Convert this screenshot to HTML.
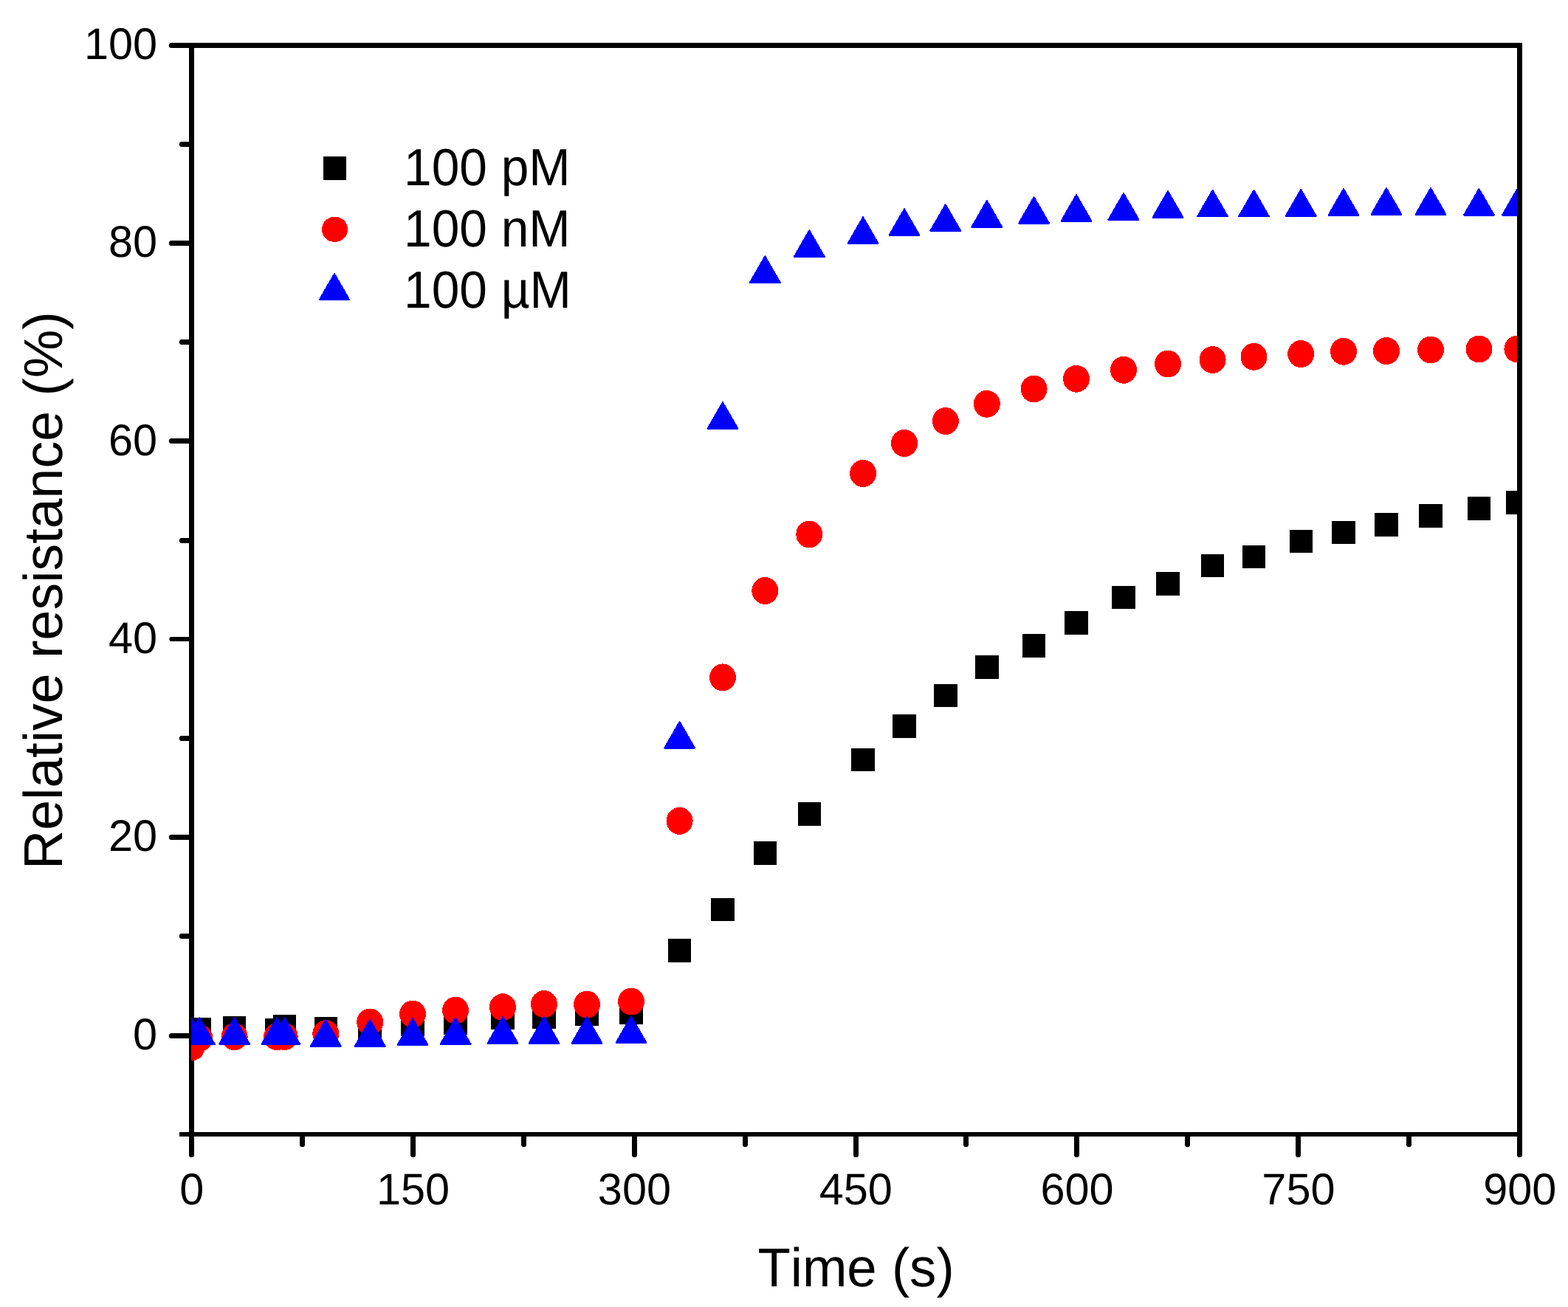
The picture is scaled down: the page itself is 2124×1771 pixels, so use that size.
<!DOCTYPE html>
<html lang="en">
<head>
<meta charset="utf-8">
<title>Relative resistance vs. time</title>
<style>
html,body{margin:0;padding:0;background:#fff;}
body{width:2124px;height:1771px;}
svg{display:block;}
text{font-family:"Liberation Sans", sans-serif;fill:#000;font-kerning:none;font-variant-ligatures:none;text-rendering:geometricPrecision;}
.tk{font-size:60px;}
.lg{font-size:71px;}
.ti{font-size:74px;}
</style>
</head>
<body>
<svg width="2124" height="1771" viewBox="0 0 2124 1771">
<rect x="0" y="0" width="2124" height="1771" fill="#ffffff"/>
<g id="axes-under" fill="#000" shape-rendering="crispEdges">
<rect x="256" y="58" width="7" height="1508"/>
<rect x="243" y="1534" width="1819" height="6"/>
<rect x="231" y="326" width="26" height="7"/>
<rect x="231" y="594" width="26" height="7"/>
<rect x="231" y="863" width="26" height="6"/>
<rect x="231" y="1131" width="26" height="7"/>
<rect x="231" y="1400" width="26" height="7"/>
<rect x="245" y="192.0" width="12" height="7"/>
<rect x="245" y="460.0" width="12" height="7"/>
<rect x="245" y="729.0" width="12" height="7"/>
<rect x="245" y="997.0" width="12" height="7"/>
<rect x="245" y="1265.0" width="12" height="7"/>
<rect x="556.0" y="1538" width="7" height="28"/>
<rect x="856.0" y="1538" width="7" height="28"/>
<rect x="1156.0" y="1538" width="7" height="28"/>
<rect x="1455.0" y="1538" width="7" height="28"/>
<rect x="1755.0" y="1538" width="7" height="28"/>
<rect x="406.0" y="1538" width="7" height="14"/>
<rect x="706.0" y="1538" width="7" height="14"/>
<rect x="1006.0" y="1538" width="7" height="14"/>
<rect x="1305.0" y="1538" width="7" height="14"/>
<rect x="1605.0" y="1538" width="7" height="14"/>
<rect x="1905.0" y="1538" width="7" height="14"/>
</g>
<g id="tick-caps" fill="#000">
<circle cx="232.3" cy="329.5" r="3.5"/>
<circle cx="232.3" cy="597.5" r="3.5"/>
<circle cx="232.3" cy="866.0" r="3.0"/>
<circle cx="232.3" cy="1134.5" r="3.5"/>
<circle cx="232.3" cy="1403.5" r="3.5"/>
<circle cx="232.3" cy="61.5" r="3.5"/>
<circle cx="246.3" cy="195.5" r="3.5"/>
<circle cx="246.3" cy="463.5" r="3.5"/>
<circle cx="246.3" cy="732.5" r="3.5"/>
<circle cx="246.3" cy="1000.5" r="3.5"/>
<circle cx="246.3" cy="1268.5" r="3.5"/>
<circle cx="246" cy="1537" r="3"/>
<circle cx="259.5" cy="1564.7" r="3.5"/>
<circle cx="559.5" cy="1564.7" r="3.5"/>
<circle cx="859.5" cy="1564.7" r="3.5"/>
<circle cx="1159.5" cy="1564.7" r="3.5"/>
<circle cx="1458.5" cy="1564.7" r="3.5"/>
<circle cx="1758.5" cy="1564.7" r="3.5"/>
<circle cx="2058.5" cy="1564.7" r="3.5"/>
<circle cx="409.5" cy="1550.7" r="3.5"/>
<circle cx="709.5" cy="1550.7" r="3.5"/>
<circle cx="1009.5" cy="1550.7" r="3.5"/>
<circle cx="1308.5" cy="1550.7" r="3.5"/>
<circle cx="1608.5" cy="1550.7" r="3.5"/>
<circle cx="1908.5" cy="1550.7" r="3.5"/>
</g>
<svg id="points" x="259" y="65" width="1803" height="1469" viewBox="259 65 1803 1469" overflow="hidden" shape-rendering="crispEdges">
<g id="series-pM" fill="#000000">
<rect x="243.9" y="1379.0" width="31.5" height="31.5"/>
<rect x="254.6" y="1379.0" width="31.5" height="31.5"/>
<rect x="301.9" y="1377.0" width="31.5" height="31.5"/>
<rect x="359.4" y="1380.0" width="31.5" height="31.5"/>
<rect x="369.9" y="1375.0" width="31.5" height="31.5"/>
<rect x="425.6" y="1377.8" width="31.5" height="31.5"/>
<rect x="485.4" y="1375.8" width="31.5" height="31.5"/>
<rect x="543.2" y="1372.8" width="31.5" height="31.5"/>
<rect x="601.4" y="1370.2" width="31.5" height="31.5"/>
<rect x="665.2" y="1363.5" width="31.5" height="31.5"/>
<rect x="721.2" y="1362.5" width="31.5" height="31.5"/>
<rect x="779.2" y="1358.3" width="31.5" height="31.5"/>
<rect x="839.2" y="1356.5" width="31.5" height="31.5"/>
<rect x="904.9" y="1272.0" width="31.5" height="31.5"/>
<rect x="963.2" y="1216.7" width="31.5" height="31.5"/>
<rect x="1020.5" y="1140.2" width="31.5" height="31.5"/>
<rect x="1080.5" y="1087.0" width="31.5" height="31.5"/>
<rect x="1153.3" y="1013.5" width="31.5" height="31.5"/>
<rect x="1209.2" y="968.0" width="31.5" height="31.5"/>
<rect x="1265.0" y="926.5" width="31.5" height="31.5"/>
<rect x="1321.0" y="888.2" width="31.5" height="31.5"/>
<rect x="1384.8" y="859.2" width="31.5" height="31.5"/>
<rect x="1442.2" y="828.2" width="31.5" height="31.5"/>
<rect x="1506.2" y="793.8" width="31.5" height="31.5"/>
<rect x="1566.2" y="775.2" width="31.5" height="31.5"/>
<rect x="1626.8" y="750.8" width="31.5" height="31.5"/>
<rect x="1682.8" y="738.8" width="31.5" height="31.5"/>
<rect x="1746.5" y="717.8" width="31.5" height="31.5"/>
<rect x="1804.2" y="705.8" width="31.5" height="31.5"/>
<rect x="1862.2" y="695.2" width="31.5" height="31.5"/>
<rect x="1922.2" y="683.2" width="31.5" height="31.5"/>
<rect x="1987.8" y="673.2" width="31.5" height="31.5"/>
<rect x="2039.7" y="665.2" width="31.5" height="31.5"/>
</g>
<g id="series-nM" fill="#ff0000">
<ellipse cx="259.6" cy="1419.0" rx="18" ry="18.45"/>
<ellipse cx="270.3" cy="1406.5" rx="18" ry="18.45"/>
<ellipse cx="317.6" cy="1404.7" rx="18" ry="18.45"/>
<ellipse cx="375.1" cy="1404.7" rx="18" ry="18.45"/>
<ellipse cx="385.7" cy="1404.5" rx="18" ry="18.45"/>
<ellipse cx="441.3" cy="1400.6" rx="18" ry="18.45"/>
<ellipse cx="501.2" cy="1385.0" rx="18" ry="18.45"/>
<ellipse cx="559.0" cy="1374.0" rx="18" ry="18.45"/>
<ellipse cx="617.1" cy="1369.0" rx="18" ry="18.45"/>
<ellipse cx="681.0" cy="1364.7" rx="18" ry="18.45"/>
<ellipse cx="737.0" cy="1360.6" rx="18" ry="18.45"/>
<ellipse cx="795.0" cy="1361.1" rx="18" ry="18.45"/>
<ellipse cx="855.0" cy="1357.0" rx="18" ry="18.45"/>
<ellipse cx="920.6" cy="1112.4" rx="18" ry="18.45"/>
<ellipse cx="979.0" cy="917.9" rx="18" ry="18.45"/>
<ellipse cx="1036.3" cy="800.5" rx="18" ry="18.45"/>
<ellipse cx="1096.3" cy="724.0" rx="18" ry="18.45"/>
<ellipse cx="1169.1" cy="641.5" rx="18" ry="18.45"/>
<ellipse cx="1225.0" cy="600.5" rx="18" ry="18.45"/>
<ellipse cx="1280.8" cy="570.6" rx="18" ry="18.45"/>
<ellipse cx="1336.8" cy="547.3" rx="18" ry="18.45"/>
<ellipse cx="1400.6" cy="527.0" rx="18" ry="18.45"/>
<ellipse cx="1458.0" cy="513.3" rx="18" ry="18.45"/>
<ellipse cx="1522.0" cy="501.3" rx="18" ry="18.45"/>
<ellipse cx="1582.0" cy="493.0" rx="18" ry="18.45"/>
<ellipse cx="1642.6" cy="487.5" rx="18" ry="18.45"/>
<ellipse cx="1698.5" cy="483.3" rx="18" ry="18.45"/>
<ellipse cx="1762.2" cy="479.5" rx="18" ry="18.45"/>
<ellipse cx="1820.0" cy="476.3" rx="18" ry="18.45"/>
<ellipse cx="1878.0" cy="475.5" rx="18" ry="18.45"/>
<ellipse cx="1938.0" cy="474.0" rx="18" ry="18.45"/>
<ellipse cx="2003.5" cy="473.0" rx="18" ry="18.45"/>
<ellipse cx="2055.4" cy="473.0" rx="18" ry="18.45"/>
</g>
<g id="series-uM" fill="#0000ff" stroke="#0000ff" stroke-width="2" stroke-linejoin="round">
<polygon points="239.1,1414.8 280.1,1414.8 259.6,1379.2"/>
<polygon points="249.8,1414.8 290.8,1414.8 270.3,1379.2"/>
<polygon points="297.1,1414.7 338.1,1414.7 317.6,1379.1"/>
<polygon points="354.6,1414.8 395.6,1414.8 375.1,1379.2"/>
<polygon points="365.2,1414.8 406.2,1414.8 385.7,1379.2"/>
<polygon points="420.8,1417.6 461.8,1417.6 441.3,1382.0"/>
<polygon points="480.7,1417.7 521.7,1417.7 501.2,1382.1"/>
<polygon points="538.5,1415.9 579.5,1415.9 559.0,1380.3"/>
<polygon points="596.6,1414.8 637.6,1414.8 617.1,1379.2"/>
<polygon points="660.5,1413.6 701.5,1413.6 681.0,1378.0"/>
<polygon points="716.5,1413.6 757.5,1413.6 737.0,1378.0"/>
<polygon points="774.5,1413.6 815.5,1413.6 795.0,1378.0"/>
<polygon points="834.5,1412.8 875.5,1412.8 855.0,1377.2"/>
<polygon points="900.1,1013.6 941.1,1013.6 920.6,978.0"/>
<polygon points="958.5,580.8 999.5,580.8 979.0,545.2"/>
<polygon points="1015.8,382.9 1056.8,382.9 1036.3,347.3"/>
<polygon points="1075.8,347.8 1116.8,347.8 1096.3,312.2"/>
<polygon points="1148.6,329.9 1189.6,329.9 1169.1,294.3"/>
<polygon points="1204.5,318.8 1245.5,318.8 1225.0,283.2"/>
<polygon points="1260.3,312.8 1301.3,312.8 1280.8,277.2"/>
<polygon points="1316.3,307.6 1357.3,307.6 1336.8,272.0"/>
<polygon points="1380.1,302.6 1421.1,302.6 1400.6,267.0"/>
<polygon points="1437.5,299.6 1478.5,299.6 1458.0,264.0"/>
<polygon points="1501.5,297.6 1542.5,297.6 1522.0,262.0"/>
<polygon points="1561.5,294.6 1602.5,294.6 1582.0,259.0"/>
<polygon points="1622.1,293.4 1663.1,293.4 1642.6,257.8"/>
<polygon points="1678.0,293.4 1719.0,293.4 1698.5,257.8"/>
<polygon points="1741.7,292.6 1782.7,292.6 1762.2,257.0"/>
<polygon points="1799.5,291.6 1840.5,291.6 1820.0,256.0"/>
<polygon points="1857.5,290.6 1898.5,290.6 1878.0,255.0"/>
<polygon points="1917.5,290.6 1958.5,290.6 1938.0,255.0"/>
<polygon points="1983.0,291.6 2024.0,291.6 2003.5,256.0"/>
<polygon points="2034.9,291.6 2075.9,291.6 2055.4,256.0"/>
</g>
</svg>
<g id="axes-over" fill="#000" shape-rendering="crispEdges">
<rect x="231" y="58" width="1831" height="7"/>
<rect x="2055" y="58" width="7" height="1508"/>
</g>
<g id="legend" shape-rendering="crispEdges">
<rect x="438" y="212" width="31" height="32" fill="#000"/>
<ellipse cx="453.5" cy="310.8" rx="17.6" ry="17.2" fill="#ff0000"/>
<polygon points="433,405.7 473,405.7 453,371" fill="#0000ff" stroke="#0000ff" stroke-width="2" stroke-linejoin="round"/>
</g>
<text class="lg" transform="translate(547.1 251.1) scale(0.9521 1)">100 pM</text>
<text class="lg" transform="translate(547.1 334.1) scale(0.9521 1)">100 nM</text>
<text class="lg" transform="translate(547.1 417.1) scale(0.9521 1)">100 µM</text>
<text class="tk" text-anchor="end" transform="translate(213 80.1) scale(0.99 1)">100</text>
<text class="tk" text-anchor="end" transform="translate(213 348.4) scale(0.99 1)">80</text>
<text class="tk" text-anchor="end" transform="translate(213 616.7) scale(0.99 1)">60</text>
<text class="tk" text-anchor="end" transform="translate(213 885.1) scale(0.99 1)">40</text>
<text class="tk" text-anchor="end" transform="translate(213 1153.4) scale(0.99 1)">20</text>
<text class="tk" text-anchor="end" transform="translate(213 1421.7) scale(0.99 1)">0</text>
<text class="tk" text-anchor="middle" transform="translate(259.8 1631.9) scale(0.99 1)">0</text>
<text class="tk" text-anchor="middle" transform="translate(559.6 1631.9) scale(0.99 1)">150</text>
<text class="tk" text-anchor="middle" transform="translate(859.4 1631.9) scale(0.99 1)">300</text>
<text class="tk" text-anchor="middle" transform="translate(1159.3 1631.9) scale(0.99 1)">450</text>
<text class="tk" text-anchor="middle" transform="translate(1459.1 1631.9) scale(0.99 1)">600</text>
<text class="tk" text-anchor="middle" transform="translate(1758.9 1631.9) scale(0.99 1)">750</text>
<text class="tk" text-anchor="middle" transform="translate(2058.7 1631.9) scale(0.99 1)">900</text>
<text class="ti" transform="translate(1026.4 1742.7) scale(0.9811 1)">Time (s)</text>
<text class="ti" transform="translate(84.05 1177.9) rotate(-90) scale(0.9932 1)">Relative resistance (%)</text>
</svg>
</body>
</html>
